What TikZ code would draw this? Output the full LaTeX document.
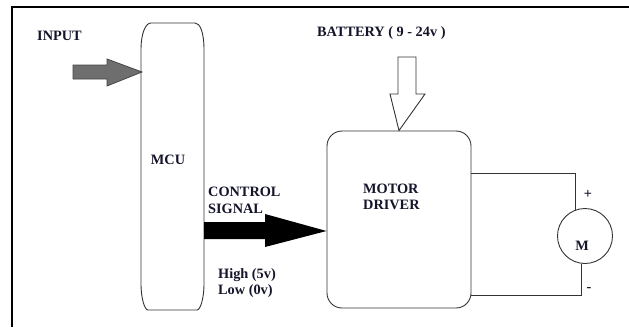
\documentclass[tikz,border=0pt]{standalone}
\usepackage{fontspec}
\setmainfont{Liberation Serif}
\definecolor{txt}{HTML}{14142A}
\definecolor{inarrow}{HTML}{6E6E6E}
\definecolor{inedge}{HTML}{454545}
\begin{document}
\begin{tikzpicture}[x=1pt,y=-1pt,
  lbl/.style={font=\bfseries\fontsize{14.3}{16.5}\selectfont, align=left, inner sep=0pt, text=txt},
  outline/.style={draw=black!80, line width=0.9pt},
  wire/.style={draw=black!80, line width=0.9pt}]
\useasboundingbox (0,0) rectangle (629,327);
\fill[white] (0,0) rectangle (629,327);
% frame (top and left only)
\draw[line width=2.2pt] (12,327) -- (12,7) -- (629,7);
% MCU body
\draw[outline] (141,283) -- (141,50) .. controls (141,32) and (146,23) .. (151,23)
  -- (195,23) .. controls (200,23) and (204,32) .. (204,50)
  -- (204,283) .. controls (204,300) and (200,310) .. (197,310)
  -- (148,310) .. controls (145,310) and (141,300) .. (141,283) -- cycle;
\node[lbl] (mcu) at (168,160) {MCU};
% input arrow
\coordinate (intip) at (142,72);
\filldraw[fill=inarrow, draw=inedge, line width=0.8pt] (73,65) -- (107,65) -- (107,59) -- (intip) -- (107,86) -- (107,79) -- (73,79) -- cycle;
\node[lbl, anchor=west] (input) at (37,36) {INPUT};
% motor driver
\node[outline, rounded corners=15pt, minimum width=144pt, minimum height=177pt] (drv) at (399,219.5) {};
\node[lbl, anchor=west] (drvlbl) at (363,197) {MOTOR\\DRIVER};
% battery arrow
\coordinate (battip) at (drv.north);
\draw[outline, fill=white] (398,57) -- (416,57) -- (416,94) -- (425,94) -- (battip) -- (390,94) -- (398,94) -- cycle;
\node[lbl, anchor=west] (bat) at (317,33) {BATTERY ( 9 - 24v )};
% control signal arrow
\fill[black] (204,222) -- (265,222) -- (265,214) -- (drv.west |- 0,231) -- (265,247) -- (265,239) -- (204,239) -- cycle;
\node[lbl, anchor=west] (ctl) at (208,200.5) {CONTROL\\SIGNAL};
\node[lbl, anchor=west] (lvl) at (218,283) {High (5v)\\Low (0v)};
% motor
\node[draw=black!80, line width=0.9pt, circle, minimum size=55pt, inner sep=0pt] (mot) at (585,236) {};
\node[lbl] (mlbl) at (582,246) {M};
\coordinate (w1) at (471,173);
\coordinate (w2) at (471,295);
\draw[wire] (w1) -- (mot.109 |- w1) -- (mot.109);
\draw[wire] (mot.262) -- (mot.262 |- w2) -- (w2);
\node[lbl] (plus) at (588,194) {+};
\node[lbl] (minus) at (589,290) {-};
\end{tikzpicture}
\end{document}
